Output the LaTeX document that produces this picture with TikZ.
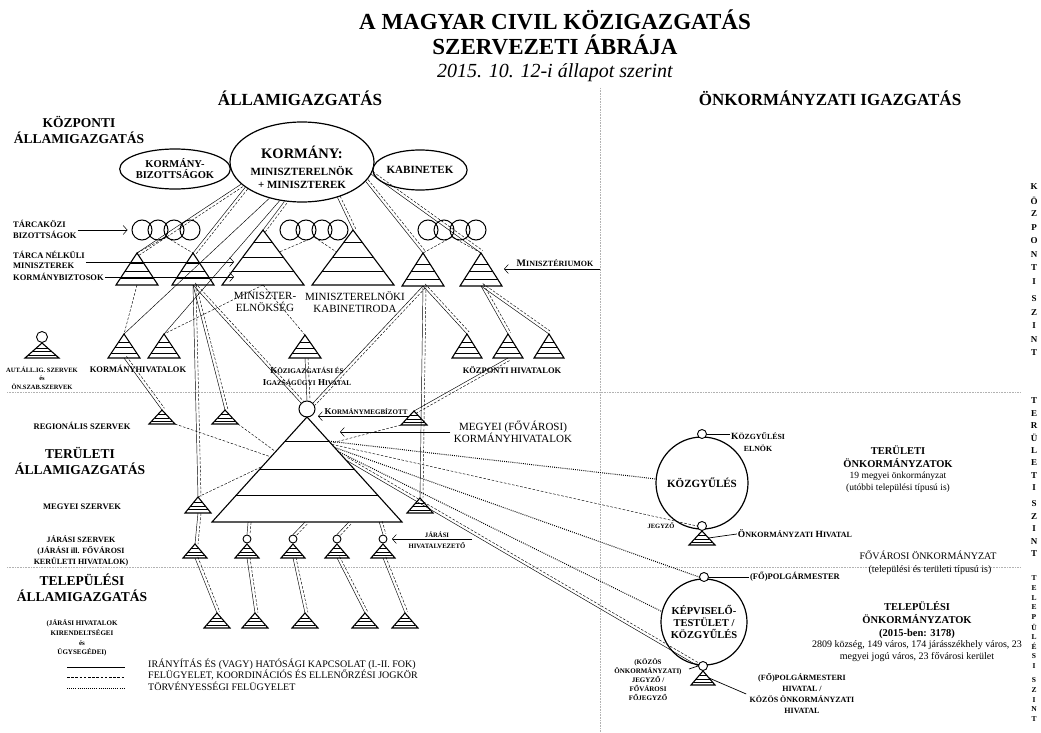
\documentclass[tikz,border=0pt]{standalone}
\usepackage{fontspec}
\setmainfont{Liberation Serif}
\usetikzlibrary{shapes.geometric,arrows.meta,calc}
\newcommand{\fsz}[2]{\fontsize{#1}{#2}\selectfont}
\newcommand{\kks}[4]{{\fsz{#1}{10}#3}{\fsz{#2}{10}#4}}
\newcommand{\lepcso}{0.33,0.57,0.8}

\tikzset{
  pics/stair/.style n args={2}{code={
    \draw[line width=1.1pt] (-#1,#2) -- (0,0) -- (#1,#2) -- cycle;
    \foreach \f in \lepcso
      \draw[line width=0.7pt] ({-#1*\f},{#2*\f}) -- ({#1*\f},{#2*\f});
    \coordinate (-top) at (0,0);
    \coordinate (-bot) at (0,#2);
    \coordinate (-bl) at (-#1,#2);
    \coordinate (-br) at (#1,#2);
  }},
}

\begin{document}
\begin{tikzpicture}[x=1pt, y=-1pt,
  cim/.style={font=\bfseries\fsz{23}{26}},
  fo/.style={font=\bfseries\fsz{17}{20}},
  fej/.style={font=\bfseries\fsz{13.5}{16}, align=center},
  cimke/.style={font=\bfseries\fsz{8.5}{11}, align=center, inner sep=1pt},
  apro/.style={font=\bfseries\fsz{6.5}{8.5}, align=center, inner sep=1pt},
  sima/.style={font=\fsz{10}{11.5}, align=center, inner sep=1pt},
  ell/.style={ellipse, draw, line width=1.2pt, inner sep=0},
  bkor/.style={circle, draw, line width=1pt, inner sep=0, minimum size=20pt},
  kiskor/.style={circle, draw, line width=0.9pt, fill=white, inner sep=0, minimum size=9pt},
  nkor/.style={circle, draw, line width=1.2pt, inner sep=0, align=center, font=\bfseries\fsz{10.5}{12}},
  szint/.style={font=\bfseries\fsz{9}{10}, inner sep=0},
  elv/.style={draw=gray!60, line width=0.6pt, densely dotted},
  irany/.style={line width=0.45pt},
  felugy/.style={line width=0.45pt, dash pattern=on 2.6pt off 1.6pt},
  torv/.style={line width=1pt, dash pattern=on 0.9pt off 1.2pt},
  nyil/.style={line width=0.5pt, -{Straight Barb[length=4pt,width=9pt]}},
]
\useasboundingbox (0,0) rectangle (1041,733);

% cim
\node[cim] (cim1) at (555,20) {A MAGYAR CIVIL KÖZIGAZGATÁS};
\node[cim] (cim2) at (555,45) {SZERVEZETI ÁBRÁJA};
\node[font=\itshape\fsz{20}{22}] (datum) at (555,73) {2015. 10. 12-i állapot szerint};
\node[fo] (allam) at (300,98) {ÁLLAMIGAZGATÁS};
\node[fo] (onk) at (830,98) {ÖNKORMÁNYZATI IGAZGATÁS};

% elvalasztok
\draw[elv] (600,88) -- (600,733);
\draw[elv] (7,392) -- (1020,392);
\draw[elv] (7,567) -- (1020,567);

% szintek jobb oldalt
\foreach \b [count=\i] in {K,Ö,Z,P,O,N,T,I}
  \node[szint] (ksza\i) at (1034,173.5+13.5*\i) {\b};
\foreach \b [count=\i] in {S,Z,I,N,T}
  \node[szint] (kszb\i) at (1034,285.5+13.5*\i) {\b};
\foreach \b [count=\i] in {T,E,R,Ü,L,E,T,I}
  \node[szint] (tsza\i) at (1034,388.6+12.4*\i) {\b};
\foreach \b [count=\i] in {S,Z,I,N,T}
  \node[szint] (tszb\i) at (1034,491.6+12.4*\i) {\b};
\foreach \b [count=\i] in {T,E,L,E,P,Ü,L,É,S,I}
  \node[szint, font=\bfseries\fsz{7.5}{8}] (lsza\i) at (1034,568.2+9.8*\i) {\b};
\foreach \b [count=\i] in {S,Z,I,N,T}
  \node[szint, font=\bfseries\fsz{7.5}{8}] (lszb\i) at (1034,670.2+9.8*\i) {\b};

% kozponti szint
\node[fej] (kozp) at (79,130) {KÖZPONTI\\ÁLLAMIGAZGATÁS};
\node[ell, minimum width=104pt, minimum height=40pt, align=center, font=\bfseries\fsz{10.5}{11}] (kbiz) at (175,169) {KORMÁNY-\\BIZOTTSÁGOK};
\node[ell, minimum width=144pt, minimum height=80pt] (kor) at (302,162) {};
\node[align=center, font=\bfseries\fsz{11}{13}] (kortx) at (302,167) {{\fsz{14.5}{16}KORMÁNY:}\\[4pt]MINISZTERELNÖK\\+ MINISZTEREK};
\node[ell, minimum width=84pt, minimum height=40pt, font=\bfseries\fsz{11}{12}] (kab) at (420,170) {KABINETEK};

\foreach \i/\x in {1/142,2/158,3/174,4/190} \node[bkor] (ta\i) at (\x,230) {};
\foreach \i/\x in {1/290,2/306,3/322,4/338} \node[bkor] (tb\i) at (\x,230) {};
\foreach \i/\x in {1/428,2/444,3/460,4/476} \node[bkor] (tc\i) at (\x,230) {};
\node[cimke, anchor=west, align=left] (tkb) at (12,229) {TÁRCAKÖZI\\BIZOTTSÁGOK};
\draw[nyil] (tkb.east |- ta1.west) -- ([xshift=-4pt]ta1.west);

\node[cimke, anchor=west] (tnm1) at (12,255) {TÁRCA NÉLKÜLI};
\node[cimke, anchor=west] (tnm2) at (12,266) {MINISZTEREK};
\node[cimke, anchor=west] (tnm3) at (12,277) {KORMÁNYBIZTOSOK};
\coordinate (mev1) at (234,262);
\coordinate (mev2) at (234,277);
\draw[nyil] (tnm1.east |- mev1) -- (mev1);
\draw[nyil] (tnm3.east) -- (mev2);

\pic (t1) at (137,253) {stair={21}{32}};
\pic (t2) at (193,253) {stair={21}{32}};
\pic (t3) at (423,253) {stair={21}{33}};
\pic (t4) at (481,253) {stair={21}{33}};
\begin{scope}
  \def\lepcso{0.23,0.5,0.75}
  \pic (me) at (263,230) {stair={41}{55}};
  \pic (mki) at (353,230) {stair={41}{55}};
  \pic (mk) at (307,417) {stair={95}{105}};
\end{scope}
\node[font=\fsz{11}{12}, align=center] (mel) at (265,302) {MINISZTER-\\ELNÖKSÉG};
\node[font=\fsz{11}{12}, align=center] (mkil) at (355,302) {MINISZTERELNÖKI\\KABINETIRODA};
\node[font=\bfseries, inner sep=1pt] (mint) at (555,263) {\kks{10}{8}{M}{INISZTÉRIUMOK}};
\coordinate (minv) at (600,269);
\coordinate (t4r) at (504,269);
\draw[nyil] (minv) -- (t4r);

\node[kiskor, minimum size=11pt, fill=none] (autc) at (42,337) {};
\pic (aut) at (42,343) {stair={17}{15}};
\node[apro] (autl) at (42,378) {AUT.ÁLL.IG. SZERVEK\\és\\ÖN.SZAB.SZERVEK};
\pic (kh1) at (124,334) {stair={16}{24}};
\pic (kh2) at (164,334) {stair={16}{24}};
\node[cimke] (kormhl) at (138,369) {KORMÁNYHIVATALOK};
\pic (kih) at (305,335) {stair={16}{23}};
\node[font=\bfseries, align=center, inner sep=1pt] (kihl) at (307,376) {\kks{9}{7.2}{K}{ÖZIGAZGATÁSI ÉS}\\\kks{9}{7.2}{I}{GAZSÁGÜGYI} \kks{9}{7.2}{H}{IVATAL}};
\foreach \i/\x in {1/467,2/508,3/549} \pic (kp\i) at (\x,334) {stair={15}{24}};
\node[cimke] (kpl) at (512,370) {KÖZPONTI HIVATALOK};

% teruleti szint
\node[cimke] (regl) at (82,426) {REGIONÁLIS SZERVEK};
\node[fej] (teru) at (80,461) {TERÜLETI\\ÁLLAMIGAZGATÁS};
\node[cimke] (mszl) at (82,507) {MEGYEI SZERVEK};
\node[cimke, font=\bfseries\fsz{8}{11}] (jsl) at (81,551) {JÁRÁSI SZERVEK\\(JÁRÁSI ill. FŐVÁROSI\\KERÜLETI HIVATALOK)};
\pic (reg1) at (162,410) {stair={13}{14}};
\pic (reg2) at (225,410) {stair={13}{14}};
\pic (reg3) at (414,411) {stair={13}{14}};
\node[circle, draw, line width=1pt, minimum size=16pt, inner sep=0] (kmb) at (307,409) {};
\node[font=\bfseries, inner sep=1pt] (kmbl) at (366,412) {\kks{9}{7}{K}{ORMÁNYMEGBÍZOTT}};
\coordinate (kmbv) at (318,417);
\draw[nyil] (kmbl.south east) -- (kmbl.south east -| kmbv);
\node[font=\fsz{11}{12}, align=center] (mkl) at (513,432) {MEGYEI (FŐVÁROSI)\\KORMÁNYHIVATALOK};
\coordinate (mkv) at (340,433);
\draw[nyil] (mkl.west) -- (mkl.west -| mkv);
\pic (msz1) at (198,497) {stair={13}{16}};
\pic (msz2) at (420,498) {stair={13}{15}};

\pic (j1) at (195,544) {stair={12}{14}};
\foreach \i/\x in {2/247,3/293,4/337,5/383} {
  \pic (j\i) at (\x,544) {stair={12}{14}};
  \node[circle, draw, line width=0.9pt, minimum size=8pt, inner sep=0] (jc\i) at (\x,539) {};
}
\node[font=\bfseries\fsz{6.7}{11}, align=center] (jhl) at (437,540) {JÁRÁSI\\HIVATALVEZETŐ};
\coordinate (jhv) at (472,539);
\coordinate (jhh) at (392,539);
\draw[nyil] (jhv) -- (jhh);

% telepulesi szint
\node[fej] (tele) at (82,588) {TELEPÜLÉSI\\ÁLLAMIGAZGATÁS};
\node[font=\bfseries\fsz{7}{9.7}, align=center] (kirl) at (82,638) {(JÁRÁSI HIVATALOK\\KIRENDELTSÉGEI\\és\\ÜGYSEGÉDEI)};
\foreach \i/\x in {1/217,2/255,3/305,4/365,5/405} \pic (tl\i) at (\x,613) {stair={13}{15}};

% jelmagyarazat
\draw[irany, line width=0.9pt] (67,667) -- (125,667);
\draw[felugy, line width=0.6pt] (67,677) -- (125,677);
\draw[torv] (67,688) -- (125,688);
\node[sima, anchor=west] (lg1) at (147,664) {IRÁNYÍTÁS ÉS (VAGY) HATÓSÁGI KAPCSOLAT (I.-II. FOK)};
\node[sima, anchor=west] (lg2) at (147,675) {FELÜGYELET, KOORDINÁCIÓS ÉS ELLENŐRZÉSI JOGKÖR};
\node[sima, anchor=west] (lg3) at (147,686) {TÖRVÉNYESSÉGI FELÜGYELET};

% onkormanyzati oldal
\node[nkor, minimum size=92pt, font=\bfseries\fsz{11}{12}] (kgy) at (702,483) {KÖZGYŰLÉS};
\node[kiskor] (kgye) at (702,434) {};
\node[font=\bfseries\fsz{8}{12}, align=center, inner sep=1pt] (kgyel) at (758,442) {\kks{9.5}{7.8}{K}{ÖZGYŰLÉSI}\\\kks{9.5}{7.8}{}{ELNÖK}};
\draw[irany, line width=0.7pt] (kgye.east) -- (kgye.east -| kgyel.west);
\pic (oh) at (702,531) {stair={13}{14}};
\node[kiskor] (jgy) at (702,526) {};
\node[font=\bfseries\fsz{6.5}{8}, inner sep=1pt] (jgyl) at (661,526) {JEGYZŐ};
\node[font=\bfseries, inner sep=1pt] (ohl) at (795,534) {\kks{9.5}{8}{Ö}{NKORMÁNYZATI} \kks{9.5}{8}{H}{IVATAL}};
\coordinate (ohr) at ($(oh-top)!0.5!(oh-br)$);
\draw[irany, line width=0.7pt] (ohr) -- (ohl.west);
\node[font=\bfseries\fsz{10.5}{13}, align=center] (tonk1) at (898,456.5) {TERÜLETI\\ÖNKORMÁNYZATOK};
\node[sima, font=\fsz{9.5}{11.5}] (tonk2) at (898,482) {19 megyei önkormányzat\\(utóbbi települési típusú is)};
\node[sima] (fonk1) at (928,555) {FŐVÁROSI ÖNKORMÁNYZAT};
\node[sima] (fonk2) at (930,570) {(települési és területi típusú is)};

\node[nkor, minimum size=86pt] (kt) at (704,622) {KÉPVISELŐ-\\TESTÜLET /\\KÖZGYŰLÉS};
\node[kiskor] (pm) at (704,577) {};
\node[cimke] (pml) at (795,577) {(FŐ)POLGÁRMESTER};
\draw[irany, line width=0.7pt] (pm.east) -- (pml.west);
\pic (ph) at (703,671) {stair={12}{14}};
\node[kiskor] (kj) at (703,666) {};
\node[font=\bfseries\fsz{7}{9}, align=center] (kjl) at (648,680) {(KÖZÖS\\ÖNKORMÁNYZATI)\\JEGYZŐ /\\FŐVÁROSI\\FŐJEGYZŐ};
\coordinate (kjv) at (689,669);
\draw[irany, line width=0.7pt] (kjv) -- (kj.west);
\node[font=\bfseries\fsz{8}{11}, align=center] (phl) at (802,694) {(FŐ)POLGÁRMESTERI\\HIVATAL /\\KÖZÖS ÖNKORMÁNYZATI\\HIVATAL};
\coordinate (phr) at ($(ph-top)!0.5!(ph-br)$);
\draw[irany, line width=0.7pt] (phr) -- (phl.west);
\node[font=\bfseries\fsz{10.5}{13}, align=center] (telo1) at (917,620) {TELEPÜLÉSI\\ÖNKORMÁNYZATOK\\(2015-ben: 3178)};
\node[sima] (telo2) at (917,651) {2809 község, 149 város, 174 járásszékhely város, 23\\megyei jogú város, 23 fővárosi kerület};

% pontok a megyei kormanyhivatal oldalain
\coordinate (mkra) at ($(mk-top)!0.23!(mk-br)$);
\coordinate (mkrb) at ($(mk-top)!0.26!(mk-br)$);
\coordinate (mkrc) at ($(mk-top)!0.29!(mk-br)$);
\coordinate (mkrd) at ($(mk-top)!0.33!(mk-br)$);
\coordinate (mkre) at ($(mk-top)!0.41!(mk-br)$);
\coordinate (mkrf) at ($(mk-top)!0.25!(mk-br)$);
\coordinate (mkla) at ($(mk-top)!0.33!(mk-bl)$);
\coordinate (mklb) at ($(mk-top)!0.38!(mk-bl)$);
\coordinate (mklc) at ($(mk-top)!0.47!(mk-bl)$);
\foreach \i/\f in {1/0.19,2/0.49,3/0.72,4/0.88}
  \coordinate (mkb\i) at ($(mk-bl)!\f!(mk-br)$);
\coordinate (mep) at ($(me-top)!0.4!(me-br)$);
\coordinate (mkip) at ($(mki-top)!0.4!(mki-bl)$);

% iranyitas + felugyelet
\foreach \a/\b in {kor.200/t1-top, kor.204/t2-top, kor.246/me-top, kor.315/mki-top,
  kor.343/t3-top, kor.350/t4-top, t2-bot/msz1-top, msz1-bot/j1-top, t2-bot/reg2-top,
  t2-bot/kmb.north west, kh1-bot/reg1-top, kih-bot/kmb.north, t3-bot/kmb.north east,
  t3-bot/msz2-top, t3-bot/kp1-top, t4-bot/kp2-top, t4-bot/kp3-top, kp2-bot/reg3-top,
  mkb1/jc2.north, mkb2/jc3.north, mkb3/jc4.north, mkb4/jc5.north,
  j1-bot/tl1-top, j2-bot/tl2-top, j3-bot/tl3-top, j4-bot/tl4-top, j5-bot/tl5-top,
  mkre/kj.west}
{
  \draw[irany] (\a) -- (\b);
  \draw[felugy] ($(\a)!3pt!90:(\b)$) -- ($(\b)!3pt!-90:(\a)$);
}
\draw[irany] (kor.228) -- (kh1-top);
\draw[irany] (kor.240) -- (kh2-top);

% felugyelet
\foreach \a/\b in {ta2.south east/t1-top, ta3.south west/t2-top, tb2.south east/mep,
  tb3.south west/mkip, tc2.south east/t3-top, tc3.south west/t4-top, t1-bot/kh1-top,
  me-bot/kh2-top, me-bot/kih-top, reg1-br/mklb, reg2-br/mkla, msz1-top/mklc,
  reg3-bl/mkrf, mkrb/jgy.west}
  \draw[felugy] (\a) -- (\b);

% torvenyessegi felugyelet
\draw[torv] (mkra) -- (kgy.175);
\draw[torv] (mkrc) -- (pm.west);
\draw[torv] (mkrd) -- (kt.166);
\end{tikzpicture}
\end{document}
